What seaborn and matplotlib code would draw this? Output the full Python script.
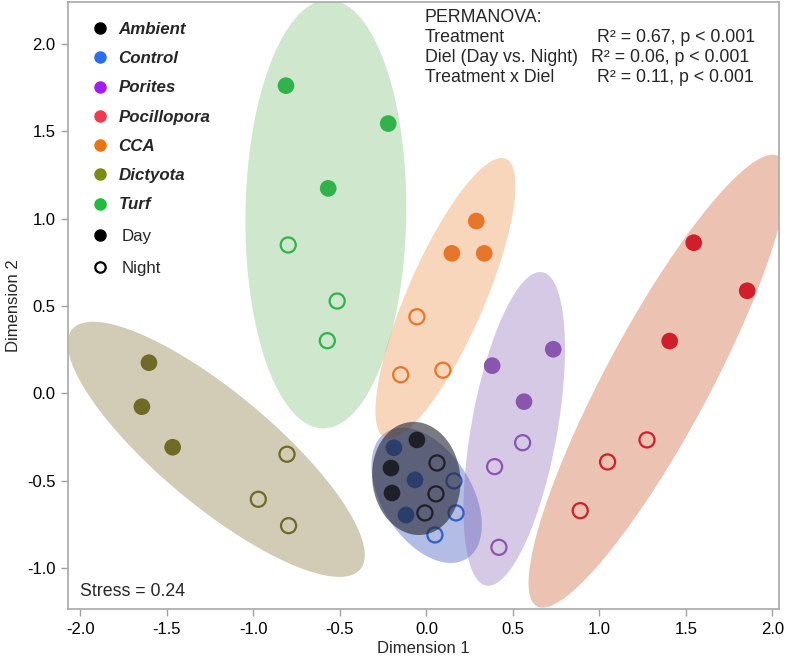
import numpy as np
import pandas as pd
import matplotlib
matplotlib.use("Agg")
import matplotlib.pyplot as plt
from matplotlib.lines import Line2D
import seaborn as sns

# ---------------- data ----------------
treatments = ["Ambient", "Control", "Porites", "Pocillopora", "CCA", "Dictyota", "Turf"]

treatment = (["Ambient"] * 6 + ["Control"] * 6 + ["Porites"] * 6 + ["Pocillopora"] * 6
             + ["CCA"] * 6 + ["Dictyota"] * 6 + ["Turf"] * 6)
diel = (["Day"] * 3 + ["Night"] * 3) * 7

dim1 = [-0.055, -0.205, -0.199, 0.061, 0.055, -0.009,     # Ambient
        -0.188, -0.066, -0.118, 0.159, 0.171, 0.049,      # Control
        0.733, 0.380, 0.564, 0.556, 0.394, 0.419,         # Porites
        1.545, 1.854, 1.406, 1.275, 1.047, 0.889,         # Pocillopora
        0.288, 0.147, 0.334, -0.055, -0.149, 0.095,       # CCA
        -1.604, -1.645, -1.467, -0.806, -0.972, -0.797,   # Dictyota
        -0.812, -0.221, -0.568, -0.799, -0.516, -0.573]   # Turf
dim2 = [-0.267, -0.428, -0.571, -0.399, -0.576, -0.685,
        -0.312, -0.496, -0.697, -0.502, -0.685, -0.811,
        0.252, 0.158, -0.048, -0.283, -0.420, -0.882,
        0.862, 0.587, 0.299, -0.267, -0.393, -0.672,
        0.986, 0.801, 0.801, 0.438, 0.106, 0.132,
        0.175, -0.077, -0.309, -0.349, -0.607, -0.758,
        1.761, 1.544, 1.173, 0.849, 0.528, 0.301]

point_colors = ["#111111", "#3060c0", "#8a55ac", "#d01e2a", "#e8762a", "#6f6a26", "#2fb34a"]
legend_colors = ["#000000", "#2b6ff0", "#a51cf2", "#f03a50", "#ec7410", "#7b8c12", "#20bc3c"]
ellipse_colors = ["#282837", "#233fb2", "#8a65b5", "#c95123", "#eb8a3d", "#7e6a2b", "#76bd6d"]

diel_labels = ["Day", "Night"]

permanova_terms = ["Treatment", "Diel (Day vs. Night)", "Treatment x Diel"]
permanova_r2 = ["0.67", "0.06", "0.11"]
permanova_p = ["< 0.001", "< 0.001", "< 0.001"]
stress = "0.24"

xticks = [-2.0, -1.5, -1.0, -0.5, 0.0, 0.5, 1.0, 1.5, 2.0]
yticks = [-1.0, -0.5, 0.0, 0.5, 1.0, 1.5, 2.0]

df = pd.DataFrame({"Treatment": treatment, "Diel": diel, "Dim1": dim1, "Dim2": dim2})

# ---------------- figure ----------------
sns.set_style("white")
plt.rcParams["font.family"] = ["Liberation Sans", "DejaVu Sans"]

fig = plt.figure(figsize=(7.9, 6.6), dpi=100)
ax = fig.add_axes([68 / 790, 1 - 609 / 660, 711 / 790, 607 / 660])

palette_pts = dict(zip(treatments, point_colors))

# ellipses (90% normal data ellipse from sample covariance)
radius = np.sqrt(-2 * np.log(1 - 0.90))
theta = np.linspace(0, 2 * np.pi, 200)
circle = np.column_stack([np.cos(theta), np.sin(theta)])
for t, ec in zip(treatments, ellipse_colors):
    sub = df[df["Treatment"] == t]
    pts = sub[["Dim1", "Dim2"]].to_numpy()
    mu = pts.mean(axis=0)
    cov = np.cov(pts.T)
    L = np.linalg.cholesky(cov)
    ell = mu + radius * circle @ L.T
    if t == "Ambient":
        ax.fill(ell[:, 0], ell[:, 1], color=ec, alpha=0.62, lw=0, zorder=4)
    else:
        ax.fill(ell[:, 0], ell[:, 1], color=ec, alpha=0.35, lw=0, zorder=1)

# day points (filled)
day = df[df["Diel"] == "Day"]
sns.scatterplot(data=day, x="Dim1", y="Dim2", hue="Treatment", palette=palette_pts,
                hue_order=treatments, s=144, linewidth=0, legend=False, ax=ax, zorder=3)
# night points (open)
night = df[df["Diel"] == "Night"]
sns.scatterplot(data=night, x="Dim1", y="Dim2", hue="Treatment", palette=palette_pts,
                hue_order=treatments, s=118, linewidth=1.6, legend=False, ax=ax, zorder=3)
coll = ax.collections[-1]
fcs = coll.get_facecolors()
coll.set_edgecolors(fcs)
coll.set_facecolors("none")

ax.set_xlim(-2.072, 2.038)
ax.set_ylim(-1.235, 2.24)
ax.set_xticks(xticks)
ax.set_yticks(yticks)
ax.set_xticklabels([f"{v:.1f}" for v in xticks])
ax.set_yticklabels([f"{v:.1f}" for v in yticks])
ax.tick_params(direction="out", length=5, width=1, color="#a0a0a0", labelsize=12,
               labelcolor="black", pad=4, bottom=True, left=True)
for sp in ax.spines.values():
    sp.set_color("#a8a8a8")
    sp.set_linewidth(1.2)
ax.set_xlabel("Dimension 1", fontsize=12, labelpad=3)
ax.set_ylabel("Dimension 2", fontsize=12, labelpad=4)

# legends
handles = [Line2D([], [], marker="o", linestyle="none", markersize=8,
                  markerfacecolor=c, markeredgecolor=c) for c in legend_colors]
leg1 = ax.legend(handles, treatments, loc="upper left", bbox_to_anchor=(0.036, 0.967),
                 frameon=False, fontsize=12.2, handlelength=0.76, handletextpad=0.7,
                 labelspacing=0.84, borderpad=0, borderaxespad=0)
for txt in leg1.get_texts():
    txt.set_fontweight("bold")
    txt.set_fontstyle("italic")
ax.add_artist(leg1)

diel_handles = [
    Line2D([], [], marker="o", linestyle="none", markersize=8,
           markerfacecolor="black", markeredgecolor="black"),
    Line2D([], [], marker="o", linestyle="none", markersize=7.5,
           markerfacecolor="none", markeredgecolor="black", markeredgewidth=1.6),
]
ax.legend(diel_handles, diel_labels, loc="upper left", bbox_to_anchor=(0.036, 0.6254),
          frameon=False, fontsize=12.2, handlelength=0.76, handletextpad=0.88,
          labelspacing=1.0, borderpad=0, borderaxespad=0)

# PERMANOVA block
def axpos(px, py):
    return (px - 68) / 711, (609 - py) / 607

fs_note = 12.8
x0, y0 = axpos(425, 17)
ax.text(x0, y0, "PERMANOVA:", transform=ax.transAxes, fontsize=fs_note, va="center", ha="left")
r2_x = [597, 591, 597]
for i, (term, r2, p) in enumerate(zip(permanova_terms, permanova_r2, permanova_p)):
    xa, ya = axpos(425, 37 + 20 * i)
    ax.text(xa, ya, term, transform=ax.transAxes, fontsize=fs_note, va="center", ha="left")
    xb, _ = axpos(r2_x[i], 0)
    ax.text(xb, ya, f"R\u00b2 = {r2}, p {p}", transform=ax.transAxes, fontsize=fs_note,
            va="center", ha="left")

xs, ys = axpos(80, 592)
ax.text(xs, ys, f"Stress = {stress}", transform=ax.transAxes, fontsize=fs_note, va="center", ha="left")

fig.savefig("out.png", dpi=100)
